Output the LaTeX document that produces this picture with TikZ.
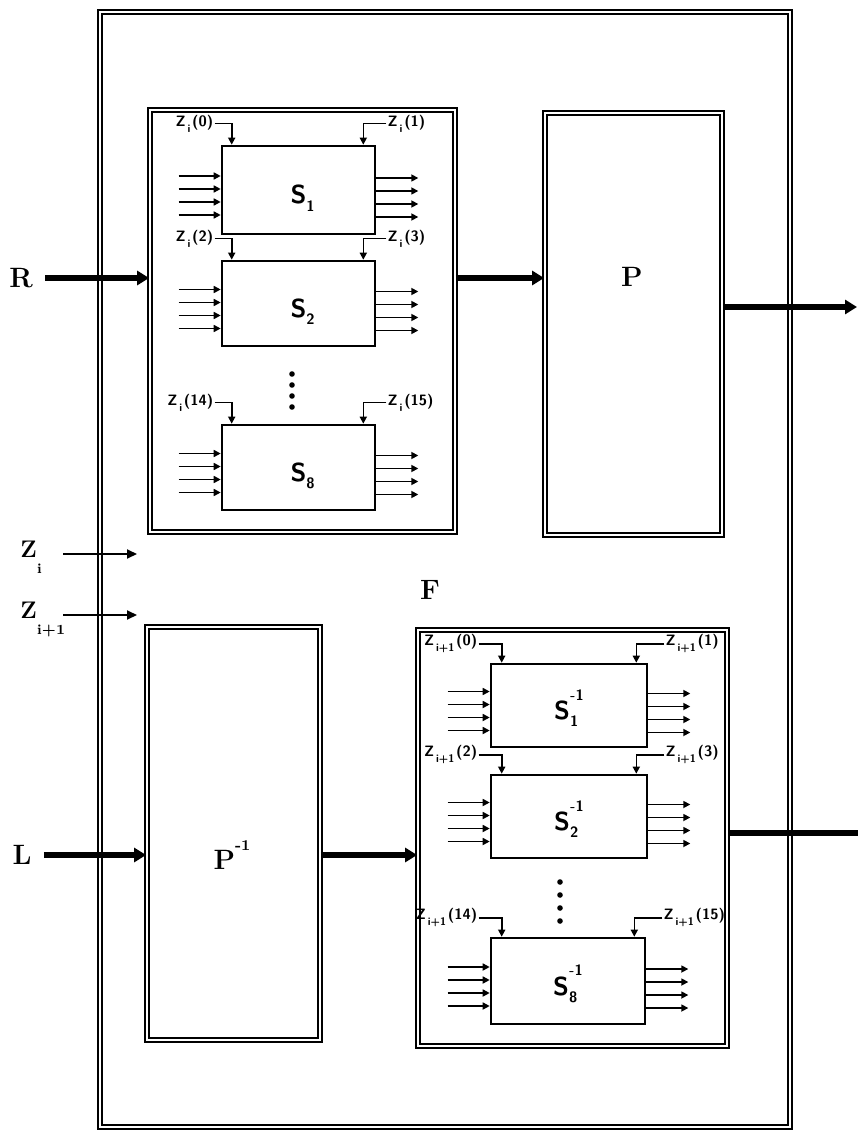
\documentclass[tikz,border=0pt]{standalone}
\usepackage{tikz}
\usetikzlibrary{positioning, arrows.meta, fit, calc}

\newcommand{\sname}[2]{\raisebox{-7pt}[0pt][0pt]{S\rlap{\raisebox{-0.6ex}{\fontsize{7.5}{8}\selectfont #1}}\raisebox{1.6ex}{\fontsize{7.5}{8}\selectfont #2}}}
\newcommand{\zsub}[1]{Z\raisebox{-0.8ex}{\fontsize{5.5}{6}\selectfont\,#1\,}}

\tikzset{
  dframe/.style={draw, double, double distance=1.1pt, line width=0.9pt, inner sep=0pt},
  sbox/.style={draw, line width=1.3pt, inner sep=0pt, font=\fontsize{13}{15}\selectfont\sffamily\bfseries},
  zlbl/.style={font=\fontsize{7.5}{9}\selectfont\sffamily\bfseries, inner sep=0.5pt},
  biglbl/.style={font=\fontsize{14}{16}\selectfont\bfseries, inner sep=1pt},
  keylbl/.style={font=\fontsize{12}{14}\selectfont\bfseries, inner sep=0pt},
  busline/.style={line width=3pt, -{Triangle[length=6pt, width=7pt]}},
  sarrow/.style={line width=0.8pt, -{Triangle[length=3.5pt, width=3.5pt]}},
  zpin/.style={line width=0.8pt, -{Triangle[length=3.5pt, width=3.5pt]}},
  keyin/.style={line width=1pt, -{Triangle[length=5pt, width=4.5pt]}},
}

\begin{document}
\begin{tikzpicture}[x=0.5pt, y=-0.5pt]
\useasboundingbox (0,0) rectangle (858,1133);

% ---- outer frame ----
\node[dframe, fit={(100,12) (790,1127)}] (outer) {};

% ---- upper half: S-boxes and P ----
\node[dframe, fit={(150,110) (455,532)}] (sblk) {};
\node[sbox, fit={(222,146) (375,234)}] (s1) {\sname{1}{}};
\node[sbox, fit={(222,261) (375,346)}] (s2) {\sname{2}{}};
\node[sbox, fit={(222,425) (375,510)}] (s8) {\sname{8}{}};
\node[dframe, fit={(545,113) (722,535)}] (p) {};
\node[biglbl] (plbl) at (632,277) {P};

\foreach \b/\l/\r in {s1/0/1, s2/2/3, s8/14/15} {
  \node[zlbl, anchor=east] (\b-zl) at ([xshift=-3pt, yshift=10.5pt]\b.north west) {\zsub{i}(\l)};
  \node[zlbl, anchor=west] (\b-zr) at ([xshift=5pt, yshift=10.5pt]\b.north east) {\zsub{i}(\r)};
  \draw[zpin] (\b-zl.east) -| ([xshift=5.5pt]\b.north west);
  \draw[zpin] (\b-zr.west) -| ([xshift=-6.5pt]\b.north east);
}
\foreach \y in {374,385,396,407} \fill (292,\y) circle (1.4pt);

% ---- lower half: P^-1 and inverse S-boxes ----
\node[dframe, fit={(147,627) (320,1040)}] (pinv) {};
\node[biglbl] (pinvlbl) at (232,855) {P\raisebox{1.5ex}{\fontsize{7.5}{8}\selectfont\bfseries -1}};
\node[dframe, fit={(418,630) (727,1046)}] (tblk) {};
\node[sbox, fit={(491,664) (647,747)}] (t1) {\sname{1}{-1}};
\node[sbox, fit={(491,775) (647,858)}] (t2) {\sname{2}{-1}};
\node[sbox, fit={(491,938) (645,1024)}] (t8) {\sname{8}{-1}};

\foreach \b/\l/\r in {t1/0/1, t2/2/3, t8/14/15} {
  \node[zlbl, anchor=east] (\b-zl) at ([xshift=-5.5pt, yshift=9.5pt]\b.north west) {\zsub{i+1}(\l)};
  \node[zlbl, anchor=west] (\b-zr) at ([xshift=8pt, yshift=9.5pt]\b.north east) {\zsub{i+1}(\r)};
  \draw[zpin] (\b-zl.east) -| ([xshift=6pt]\b.north west);
  \draw[zpin] (\b-zr.west) -| ([xshift=-6pt]\b.north east);
}
\foreach \y in {882,895,908,921} \fill (560,\y) circle (1.4pt);

% 4 bits in, 4 bits out of every S-box
\foreach \b in {s1,s2,s8,t1,t2,t8} {
  \foreach \d in {7,0.5,-6,-12.5}
    \draw[sarrow] ([xshift=-21pt, yshift=\d pt]\b.west) -- ([yshift=\d pt]\b.west);
  \foreach \d in {6,-0.5,-7,-13.5}
    \draw[sarrow] ([yshift=\d pt]\b.east) -- ([xshift=21pt, yshift=\d pt]\b.east);
}

% ---- labels and data paths ----
\node[biglbl] (r) at (21,278) {R};
\node[biglbl] (l) at (22,855) {L};
\node[biglbl] (f) at (430,590) {F};

\draw[busline] ([xshift=5pt]r.east) -- (r -| sblk.west);
\draw[busline] (r -| sblk.east) -- (r -| p.west);
\coordinate (pout) at (857,307);
\draw[busline] (pout -| p.east) -- (pout);

\draw[busline] ([xshift=5pt]l.east) -- (l -| pinv.west);
\draw[busline] (l -| pinv.east) -- (l -| tblk.west);
\coordinate (lout) at (858,833);
\draw[busline, -] (lout -| tblk.east) -- (lout);

% ---- round keys ----
\node[keylbl, anchor=base west] (zi) at (20,557) {Z\raisebox{-8pt}{\fontsize{7}{8}\selectfont i}};
\node[keylbl, anchor=base west] (zi1) at (20,618) {Z\raisebox{-8pt}{\fontsize{7}{8}\selectfont i+1}};
\coordinate (zia) at (63,554);
\coordinate (zib) at (137,554);
\coordinate (zic) at (63,615);
\coordinate (zid) at (137,615);
\draw[keyin] (zia) -- (zib);
\draw[keyin] (zic) -- (zid);

\end{tikzpicture}
\end{document}
